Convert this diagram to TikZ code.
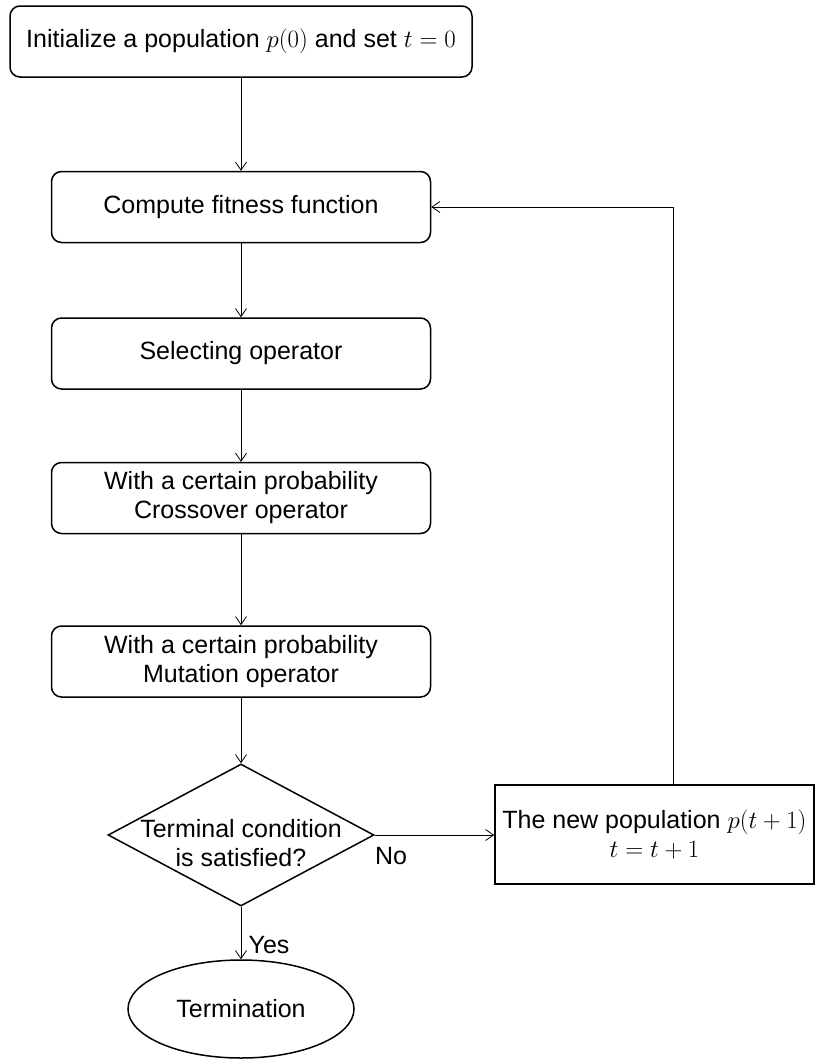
\documentclass[tikz,border=0pt]{standalone}
\usepackage{fontspec}
\setmainfont{Liberation Sans}
\usetikzlibrary{shapes.geometric,arrows.meta}

\begin{document}
\begin{tikzpicture}[x=1pt,y=-1pt,
  font=\fontsize{25}{29}\selectfont,
  every node/.style={align=center,inner sep=0pt},
  proc/.style={draw,line width=1.5pt,rounded corners=10pt,minimum width=379pt,minimum height=71pt},
  flow/.style={line width=0.8pt,-{Straight Barb[length=8pt,width=11pt]}}]

\useasboundingbox (0,0) rectangle (815,1061);

\node[proc,minimum width=462pt] (init) at (241,41.5) {Initialize a population $p(0)$ and set $t=0$};
\node[proc] (fit) at (241,207) {Compute fitness function};
\node[proc] (sel) at (241,353.5) {Selecting operator};
\node[proc] (cross) at (241,498) {With a certain probability\\Crossover operator};
\node[proc] (mut) at (241,661.5) {With a certain probability\\Mutation operator};

\node[draw,diamond,line width=1.5pt,aspect=1.87,minimum width=266pt,minimum height=142pt] (cond) at (241,835) {};
\node (condtext) at (241,843) {Terminal condition\\is satisfied?};

\node[draw,line width=1.5pt,minimum width=319pt,minimum height=99pt] (newpop) at (654.5,834.5) {The new population $p(t+1)$\\$t=t+1$};
\node[draw,ellipse,line width=1.5pt,minimum width=226pt,minimum height=98pt] (term) at (241,1009) {Termination};

\node (no) at (391,856) {No};
\node (yes) at (269,945) {Yes};
\coordinate (up) at (673,207);

\foreach \a/\b in {init/fit, fit/sel, sel/cross, cross/mut, mut/cond, cond/term}
    \draw[flow] (\a) -- (\b);

\draw[flow] (cond.east) -- (newpop.west |- cond.east);
\draw[flow] (newpop.north -| up) -- (up) -- (fit.east);

\end{tikzpicture}
\end{document}
